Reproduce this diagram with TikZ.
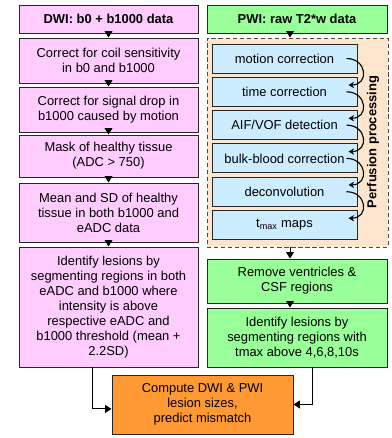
\documentclass[tikz,border=0pt]{standalone}
\usepackage{fontspec}
\setmainfont{Liberation Sans}
\usepackage{tikz}
\usetikzlibrary{arrows.meta,positioning,calc}
\definecolor{dwipink}{RGB}{255,204,255}
\definecolor{pwigreen}{RGB}{153,255,153}
\definecolor{perfblue}{RGB}{204,236,255}
\definecolor{perfbg}{RGB}{253,229,206}
\definecolor{resorange}{RGB}{255,153,51}

\begin{document}
\begin{tikzpicture}[
    box/.style={draw=black!85, line width=0.7pt, align=center, inner sep=2pt,
      font=\fontsize{9.2}{10.6}\selectfont},
    title/.style={font=\fontsize{9.2}{10.6}\selectfont\bfseries},
    dwi/.style={box, fill=dwipink, minimum width=4.475cm},
    pwi/.style={box, fill=pwigreen, minimum width=4.5cm},
    proc/.style={box, fill=perfblue, minimum width=3.625cm, minimum height=0.725cm},
    arr/.style={-{Triangle[length=4.5pt,width=5.5pt]}, line width=0.7pt},
    hop/.style={-{Stealth[length=4pt,width=4.5pt]}, line width=0.8pt, out=0, in=0, looseness=2}
  ]
  \useasboundingbox (0,0) rectangle (9.775,-10.95);
  % DWI branch
  \node[dwi,title,minimum height=0.7cm] (dwi0) at (2.7125,-0.475) {DWI: b0 + b1000 data};
  \node[dwi,minimum height=1.125cm] (dwi1) at (2.7125,-1.5125) {Correct for coil sensitivity\\in b0 and b1000};
  \node[dwi,minimum height=1.125cm] (dwi2) at (2.7125,-2.7375) {Correct for signal drop in\\b1000 caused by motion};
  \node[dwi,minimum height=1.05cm] (dwi3) at (2.7125,-3.9) {Mask of healthy tissue\\(ADC > 750)};
  \node[dwi,minimum height=1.475cm] (dwi4) at (2.7125,-5.3125) {Mean and SD of healthy\\tissue in both b1000 and\\eADC data};
  \node[dwi,minimum height=3cm] (dwi5) at (2.7125,-7.675)
    {Identify lesions by\\segmenting regions in both\\eADC and b1000 where\\intensity is above\\respective eADC and\\b1000 threshold (mean +\\2.2SD)};
  \draw[arr] (dwi0) -- (dwi1); \draw[arr] (dwi1) -- (dwi2); \draw[arr] (dwi2) -- (dwi3);
  \draw[arr] (dwi3) -- (dwi4); \draw[arr] (dwi4) -- (dwi5);
  % PWI branch
  \node[pwi,title,minimum height=0.7cm] (pwi0) at (7.425,-0.475) {PWI: raw T2*w data};
  \node[draw=black!70, dash pattern=on 3pt off 2pt, line width=0.7pt, fill=perfbg,
    minimum width=4.525cm, minimum height=5.225cm] (perf) at (7.4375,-3.5625) {};
  \node[proc] (p1) at (7.1125,-1.4625) {motion correction};
  \node[proc] (p2) at (7.1125,-2.295) {time correction};
  \node[proc] (p3) at (7.1125,-3.1275) {AIF/VOF detection};
  \node[proc] (p4) at (7.1125,-3.96) {bulk-blood correction};
  \node[proc] (p5) at (7.1125,-4.7925) {deconvolution};
  \node[proc] (p6) at (7.1125,-5.625) {t\textsubscript{max} maps};
  \node[title, rotate=90] (perflbl) at (9.325,-3.55) {Perfusion processing};
  \draw[hop] ([xshift=-0.275cm]p1.east) to ([xshift=-0.225cm,yshift=0.17cm]p2.east);
  \draw[hop] ([xshift=-0.275cm]p2.east) to ([xshift=-0.225cm,yshift=0.17cm]p3.east);
  \draw[hop] ([xshift=-0.275cm]p3.east) to ([xshift=-0.225cm,yshift=0.17cm]p4.east);
  \draw[hop] ([xshift=-0.275cm]p4.east) to ([xshift=-0.225cm,yshift=0.17cm]p5.east);
  \draw[hop] ([xshift=-0.275cm]p5.east) to ([xshift=-0.225cm,yshift=0.17cm]p6.east);
  \node[pwi,minimum height=1.1cm] (pwi1) at (7.425,-7.025) {Remove ventricles \&\\CSF regions};
  \node[pwi,minimum height=1.475cm] (pwi2) at (7.425,-8.4375) {Identify lesions by\\segmenting regions with\\tmax above 4,6,8,10s};
  \coordinate (ax) at (7.25,0);
  \draw[arr] (pwi0.south -| ax) -- (perf.north -| ax);
  \draw[arr] (perf.south -| ax) -- (pwi1.north -| ax);
  \draw[arr] (pwi1.south -| ax) -- (pwi2.north -| ax);
  % result
  \node[box,fill=resorange,minimum width=4.525cm,minimum height=1.475cm] (res) at (5.0625,-10.1125)
    {Compute DWI \& PWI\\lesion sizes,\\predict mismatch};
  \draw[arr] ([xshift=-0.39cm]dwi5.south) |- ([yshift=-0.11cm]res.west);
  \draw[arr] ([xshift=0.375cm]pwi2.south) |- (res.east);
\end{tikzpicture}
\end{document}
